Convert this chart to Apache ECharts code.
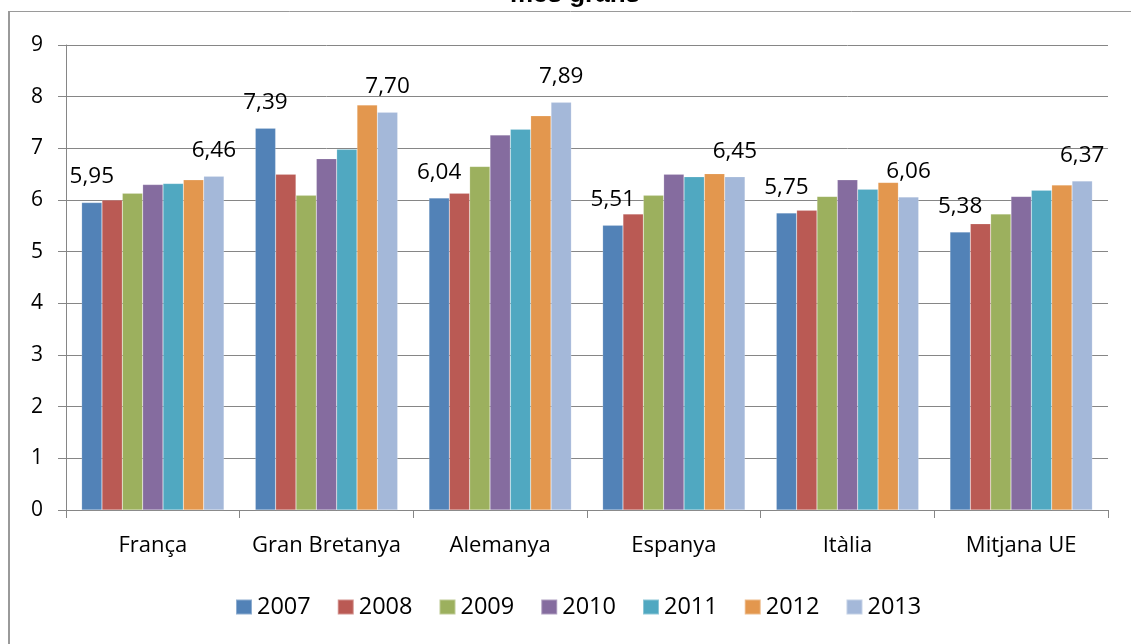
<!DOCTYPE html>
<html>
<head>
<meta charset="utf-8">
<script src="https://cdn.jsdelivr.net/npm/echarts@6/dist/echarts.min.js"></script>
<style>
html,body{margin:0;padding:0;background:#fff;}
#chart{width:1131px;height:644px;}
</style>
</head>
<body>
<div id="chart"></div>
<script>
const categories = ['França', 'Gran Bretanya', 'Alemanya', 'Espanya', 'Itàlia', 'Mitjana UE'];
const years = ['2007', '2008', '2009', '2010', '2011', '2012', '2013'];
const v2007 = [5.95, 7.39, 6.04, 5.51, 5.75, 5.38];
const v2008 = [6.00, 6.50, 6.13, 5.73, 5.80, 5.54];
const v2009 = [6.13, 6.09, 6.65, 6.09, 6.07, 5.73];
const v2010 = [6.30, 6.80, 7.26, 6.50, 6.39, 6.07];
const v2011 = [6.32, 6.98, 7.37, 6.45, 6.21, 6.19];
const v2012 = [6.39, 7.84, 7.63, 6.51, 6.34, 6.29];
const v2013 = [6.46, 7.70, 7.89, 6.45, 6.06, 6.37];
const yTicks = [0, 1, 2, 3, 4, 5, 6, 7, 8, 9];
const titleText = 'més grans';

const seriesValues = [v2007, v2008, v2009, v2010, v2011, v2012, v2013];
const colors = ['#5282B7', '#BA5A54', '#9CB05E', '#856C9F', '#50A8C1', '#E3974E', '#A4B8D9'];
const labelled = {0: true, 6: true};
const FONT = '"Open Sans", "Noto Sans", sans-serif';

const chart = echarts.init(document.getElementById('chart'), null, {renderer: 'canvas'});
const series = years.map((y, i) => ({
  name: y,
  type: 'bar',
  data: seriesValues[i],
  barGap: '0%',
  barCategoryGap: '18%',
  itemStyle: {color: colors[i], borderColor: 'rgba(255,255,255,0.35)', borderWidth: 0.5},
  label: {
    show: !!labelled[i],
    position: 'top',
    distance: 14,
    color: '#000',
    fontFamily: FONT,
    fontSize: 22.5,
    formatter: p => p.value.toFixed(2).replace('.', ',')
  },
  emphasis: {disabled: true},
  animation: false
}));

chart.setOption({
  animation: false,
  backgroundColor: '#fff',
  graphic: [
    {type: 'line', shape: {x1: 9, y1: 11.5, x2: 1140, y2: 11.5}, style: {stroke: '#9a9a9a', lineWidth: 1}},
    {type: 'line', shape: {x1: 9, y1: 11, x2: 9, y2: 660}, style: {stroke: '#9a9a9a', lineWidth: 2}},
    {type: 'text', x: 575, y: 8, style: {text: titleText, fill: '#000', font: 'bold 26px "Liberation Sans", Arial, sans-serif', align: 'center', verticalAlign: 'bottom'}}
  ],
  legend: {
    data: years,
    left: 235,
    top: 595,
    padding: 0,
    icon: 'rect',
    itemWidth: 16,
    itemHeight: 15,
    itemGap: 26,
    textStyle: {fontFamily: FONT, fontSize: 23.5, color: '#000'}
  },
  grid: {left: 66, right: 23, top: 45, bottom: 134, containLabel: false},
  xAxis: {
    type: 'category',
    data: categories,
    axisLine: {show: true, lineStyle: {color: '#868686', width: 1}},
    axisTick: {show: true, length: 8, interval: 0, lineStyle: {color: '#868686'}},
    axisLabel: {fontFamily: FONT, fontSize: 22, color: '#000', margin: 25, interval: 0, hideOverlap: false},
    splitLine: {show: false}
  },
  yAxis: {
    type: 'value',
    min: 0,
    max: 9,
    interval: 1,
    axisLine: {show: true, lineStyle: {color: '#868686', width: 1}},
    axisTick: {show: true, length: 8, lineStyle: {color: '#868686'}},
    axisLabel: {fontFamily: FONT, fontSize: 21, color: '#000', margin: 23,
      formatter: v => yTicks.includes(v) ? String(v) : ''},
    splitLine: {show: true, lineStyle: {color: '#868686', width: 1}}
  },
  series: series
});
</script>
</body>
</html>
